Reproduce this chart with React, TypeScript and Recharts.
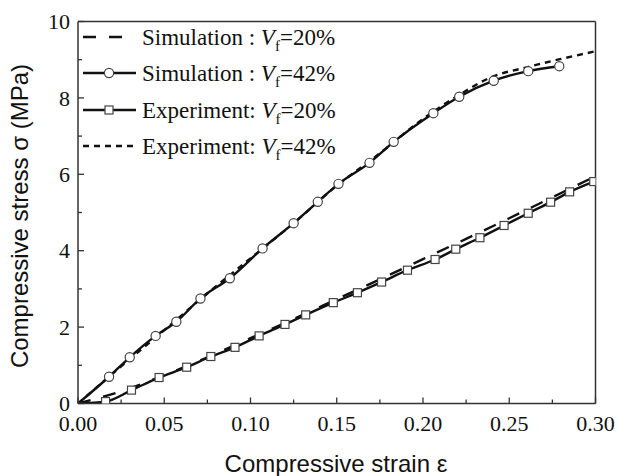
import { Label, Legend, Line, LineChart, ReferenceLine, XAxis, YAxis } from 'recharts';

// page is photographed edge to edge, so drop the default body margin
if (typeof document !== 'undefined') document.body.style.margin = '0';

const SERIF = '"Liberation Serif", "Times New Roman", Times, serif';
const SANS = '"Liberation Sans", Arial, Helvetica, sans-serif';
const INK = '#111';
const AXIS = '#333';

const X_TICKS = [0, 0.025, 0.05, 0.075, 0.1, 0.125, 0.15, 0.175, 0.2, 0.225, 0.25, 0.275, 0.3];
const Y_TICKS = [0, 1, 2, 3, 4, 5, 6, 7, 8, 9, 10];

// Simulation : Vf=20% (dashed)
const SIM20_STRAIN = [0, 0.025, 0.05, 0.075, 0.1, 0.125, 0.15, 0.175, 0.2, 0.225, 0.25, 0.275, 0.3];
const SIM20_STRESS = [0, 0.32, 0.74, 1.21, 1.71, 2.21, 2.73, 3.25, 3.78, 4.31, 4.85, 5.4, 5.95];

// Simulation : Vf=42% (solid, circles)
const SIM42_STRAIN = [0, 0.018, 0.03, 0.045, 0.057, 0.071, 0.088, 0.107, 0.125, 0.139, 0.151, 0.169, 0.183, 0.206, 0.221, 0.241, 0.261, 0.279];
const SIM42_STRESS = [0, 0.7, 1.21, 1.77, 2.14, 2.75, 3.28, 4.06, 4.72, 5.28, 5.75, 6.3, 6.85, 7.6, 8.03, 8.45, 8.7, 8.83];

// Experiment: Vf=20% (solid, squares)
const EXP20_STRAIN = [0, 0.016, 0.031, 0.047, 0.063, 0.077, 0.091, 0.105, 0.12, 0.132, 0.148, 0.162, 0.176, 0.191, 0.207, 0.219, 0.233, 0.247, 0.261, 0.274, 0.285, 0.299];
const EXP20_STRESS = [0, 0.05, 0.35, 0.68, 0.95, 1.23, 1.47, 1.77, 2.07, 2.32, 2.64, 2.9, 3.18, 3.49, 3.77, 4.04, 4.34, 4.66, 4.98, 5.27, 5.54, 5.81];

// Experiment: Vf=42% (short dashes)
const EXP42_STRAIN = [0, 0.02, 0.05, 0.075, 0.1, 0.125, 0.15, 0.175, 0.2, 0.22, 0.24, 0.26, 0.28, 0.3];
const EXP42_STRESS = [0, 0.78, 1.92, 2.88, 3.8, 4.72, 5.7, 6.55, 7.45, 8.05, 8.55, 8.8, 9.02, 9.22];

const toPoints = (xs: number[], ys: number[]) => xs.map((x, i) => ({ x, y: ys[i] }));

const sim20 = toPoints(SIM20_STRAIN, SIM20_STRESS);
const sim42 = toPoints(SIM42_STRAIN, SIM42_STRESS);
const exp20 = toPoints(EXP20_STRAIN, EXP20_STRESS);
const exp42 = toPoints(EXP42_STRAIN, EXP42_STRESS);

const serifText = { fontFamily: SERIF, fontSize: 22, fill: INK };

function CircleDot(props: any) {
  const { cx, cy, index } = props;
  if (index === 0 || cx == null) return <g key={`c${index}`} />;
  return <circle key={`c${index}`} cx={cx} cy={cy} r={4.6} fill="#fff" stroke="#444" strokeWidth={1.2} />;
}

function SquareDot(props: any) {
  const { cx, cy, index } = props;
  if (index === 0 || cx == null) return <g key={`s${index}`} />;
  return <rect key={`s${index}`} x={cx - 4} y={cy - 4} width={8} height={8} fill="#fff" stroke="#444" strokeWidth={1.2} />;
}

function YTick({ x, y, payload }: any) {
  const v = payload.value as number;
  const major = v % 2 === 0;
  const ax = x + 8;
  return (
    <g>
      <line x1={ax} x2={ax + (major ? 6 : 4)} y1={y} y2={y} stroke={AXIS} strokeWidth={1.3} />
      {major && (
        <text x={x} y={y} dy="0.35em" textAnchor="end" style={serifText}>
          {v}
        </text>
      )}
    </g>
  );
}

function XTick({ x, y, payload }: any) {
  const v = payload.value as number;
  const major = Math.round(v * 40) % 2 === 0;
  const ay = y - 12;
  return (
    <g>
      <line x1={x} x2={x} y1={ay} y2={ay - (major ? 6 : 4)} stroke={AXIS} strokeWidth={1.3} />
      {major && (
        <text x={x} y={y} dy="0.71em" textAnchor="middle" style={serifText}>
          {v.toFixed(2)}
        </text>
      )}
    </g>
  );
}

const LEGEND_ROWS = [
  { label: 'Simulation : ', vf: '=20%', kind: 'dash' },
  { label: 'Simulation : ', vf: '=42%', kind: 'circle' },
  { label: 'Experiment: ', vf: '=20%', kind: 'square' },
  { label: 'Experiment: ', vf: '=42%', kind: 'dot' },
];
const LEGEND_Y = [37, 73, 110, 146];

function LegendBox() {
  return (
    <svg width={360} height={170} style={{ display: 'block' }}>
      {LEGEND_ROWS.map((row, i) => {
        const cy = LEGEND_Y[i];
        return (
          <g key={i}>
            {row.kind === 'dash' && (
              <line x1={83} x2={123} y1={cy} y2={cy} stroke={INK} strokeWidth={2.5} strokeDasharray="13 13" />
            )}
            {row.kind === 'dot' && (
              <line x1={83} x2={136} y1={cy} y2={cy} stroke={INK} strokeWidth={2.5} strokeDasharray="6 5" />
            )}
            {(row.kind === 'circle' || row.kind === 'square') && (
              <line x1={83} x2={136} y1={cy} y2={cy} stroke={INK} strokeWidth={2.5} />
            )}
            {row.kind === 'circle' && <circle cx={109} cy={cy} r={4.6} fill="#fff" stroke="#444" strokeWidth={1.2} />}
            {row.kind === 'square' && (
              <rect x={105} y={cy - 4} width={8} height={8} fill="#fff" stroke="#444" strokeWidth={1.2} />
            )}
            <text x={142} y={cy + 8} style={{ fontFamily: SERIF, fontSize: 23, fill: INK }}>
              {row.label}
              <tspan style={{ fontStyle: 'italic' }}>V</tspan>
              <tspan style={{ fontSize: 15 }} dy={6}>f</tspan>
              <tspan dy={-6}>{row.vf}</tspan>
            </text>
          </g>
        );
      })}
    </svg>
  );
}

function YTitle() {
  return (
    <text
      x={28}
      y={216}
      transform="rotate(-90 28 216)"
      textAnchor="middle"
      style={{ fontFamily: SANS, fontSize: 24, fill: INK }}
    >
      Compressive stress σ (MPa)
    </text>
  );
}

function XTitle() {
  return (
    <text x={336} y={472} textAnchor="middle" style={{ fontFamily: SANS, fontSize: 24, fill: INK }}>
      Compressive strain ε
    </text>
  );
}

export default function App() {
  return (
    <LineChart width={619} height={476} margin={{ top: 21.5, right: 23.5, left: 18, bottom: 24.5 }}>
      <XAxis
        type="number"
        dataKey="x"
        domain={[0, 0.3]}
        ticks={X_TICKS}
        interval={0}
        tick={<XTick />}
        tickSize={0}
        tickMargin={12}
        height={48}
        axisLine={{ stroke: AXIS, strokeWidth: 1.5 }}
        allowDataOverflow
      >
        <Label content={<XTitle />} />
      </XAxis>
      <YAxis
        type="number"
        domain={[0, 10]}
        ticks={Y_TICKS}
        interval={0}
        tick={<YTick />}
        tickSize={0}
        tickMargin={8}
        width={60}
        axisLine={{ stroke: AXIS, strokeWidth: 1.5 }}
        allowDataOverflow
      >
        <Label content={<YTitle />} />
      </YAxis>

      <ReferenceLine y={10} stroke={AXIS} strokeWidth={1.5} />
      <ReferenceLine x={0.3} stroke={AXIS} strokeWidth={1.5} />

      <Legend
        layout="vertical"
        align="center"
        verticalAlign="middle"
        wrapperStyle={{ left: 0, top: 0, width: 360, height: 170 }}
        content={<LegendBox />}
      />

      <Line
        data={exp42} dataKey="y" type="monotone"
        stroke={INK} strokeWidth={2.4} strokeDasharray="6 5"
        dot={false} activeDot={false} isAnimationActive={false}
      />
      <Line
        data={sim20} dataKey="y" type="monotone"
        stroke={INK} strokeWidth={2.4} strokeDasharray="13 13"
        dot={false} activeDot={false} isAnimationActive={false}
      />
      <Line
        data={exp20} dataKey="y" type="monotone"
        stroke={INK} strokeWidth={2.4}
        dot={<SquareDot />} activeDot={false} isAnimationActive={false}
      />
      <Line
        data={sim42} dataKey="y" type="monotone"
        stroke={INK} strokeWidth={2.4}
        dot={<CircleDot />} activeDot={false} isAnimationActive={false}
      />
    </LineChart>
  );
}
